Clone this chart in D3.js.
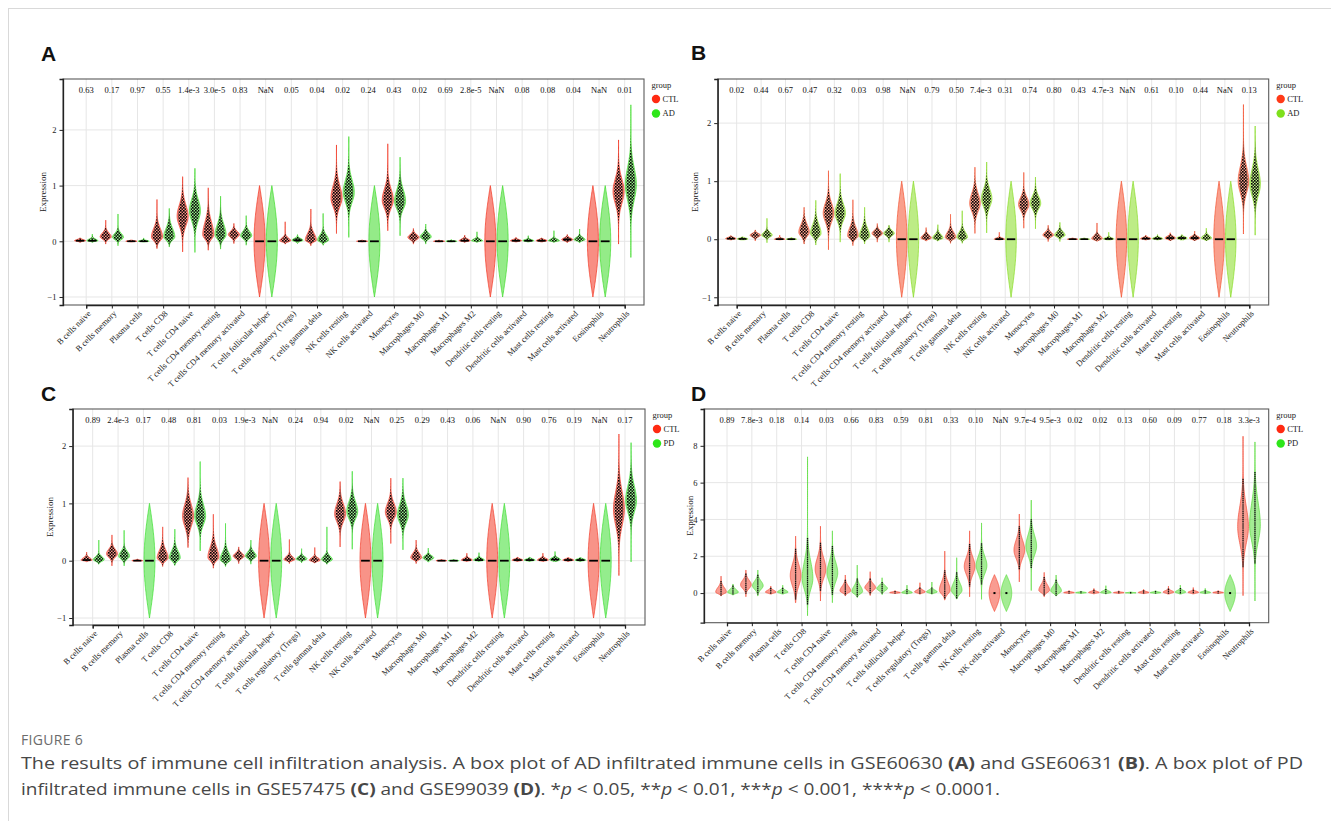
<!DOCTYPE html>
<html><head><meta charset="utf-8">
<script src="https://cdn.jsdelivr.net/npm/d3@7"></script>
<style>
body{margin:0;background:#fff;}
svg{display:block;}
.sf{font-family:"Liberation Serif","DejaVu Serif","Times New Roman",serif;}
</style></head><body>
<svg id="fig" width="1331" height="821"></svg>
<script>
// Immune cell types (CIBERSORT, 22 cell types)
const categories = ["B cells naive","B cells memory","Plasma cells","T cells CD8","T cells CD4 naive",
  "T cells CD4 memory resting","T cells CD4 memory activated","T cells follicular helper",
  "T cells regulatory (Tregs)","T cells gamma delta","NK cells resting","NK cells activated","Monocytes",
  "Macrophages M0","Macrophages M1","Macrophages M2","Dendritic cells resting","Dendritic cells activated",
  "Mast cells resting","Mast cells activated","Eosinophils","Neutrophils"];

// p-values printed above each cell type
const pValuesA = ["0.63","0.17","0.97","0.55","1.4e-3","3.0e-5","0.83","NaN","0.05","0.04","0.02","0.24","0.43","0.02","0.69","2.8e-5","NaN","0.08","0.08","0.04","NaN","0.01"];
const pValuesB = ["0.02","0.44","0.67","0.47","0.32","0.03","0.98","NaN","0.79","0.50","7.4e-3","0.31","0.74","0.80","0.43","4.7e-3","NaN","0.61","0.10","0.44","NaN","0.13"];
const pValuesC = ["0.89","2.4e-3","0.17","0.48","0.81","0.03","1.9e-3","NaN","0.24","0.94","0.02","NaN","0.25","0.29","0.43","0.06","NaN","0.90","0.76","0.19","NaN","0.17"];
const pValuesD = ["0.89","7.8e-3","0.18","0.14","0.03","0.66","0.83","0.59","0.81","0.33","0.10","NaN","9.7e-4","9.5e-3","0.02","0.02","0.13","0.60","0.09","0.77","0.18","3.3e-3"];

// Violin summaries per cell type: [min, mode, max, spread below mode, spread above mode]
// all-zero rows are cell types with constant (zero) expression in that group
const ctlA = [[-0.02,0.01,0.06,0.01,0.02],[-0.05,0.08,0.38,0.04,0.07],[-0.01,0,0.02,0.005,0.01],[-0.13,0.08,0.75,0.07,0.15],
  [-0.19,0.45,1.16,0.17,0.2],[-0.16,0.12,0.96,0.08,0.22],[-0.04,0.12,0.32,0.05,0.06],[0,0,0,0,0],
  [-0.05,0.01,0.35,0.02,0.05],[-0.08,0.02,0.58,0.03,0.12],[0.14,0.78,1.73,0.16,0.22],[-0.01,0,0.02,0.005,0.008],
  [0.19,0.74,1.75,0.15,0.2],[-0.05,0.07,0.23,0.04,0.05],[-0.01,0,0.02,0.005,0.008],[-0.02,0.01,0.11,0.01,0.03],
  [0,0,0,0,0],[-0.01,0.01,0.07,0.01,0.02],[-0.01,0.01,0.06,0.01,0.02],[-0.02,0.03,0.12,0.02,0.03],
  [0,0,0,0,0],[-0.05,0.9,1.82,0.22,0.22]];
const adA = [[-0.02,0.01,0.13,0.01,0.03],[-0.08,0.07,0.49,0.04,0.07],[-0.01,0,0.06,0.005,0.015],[-0.1,0.08,0.59,0.06,0.15],
  [-0.2,0.55,1.31,0.18,0.2],[-0.14,0.12,0.81,0.08,0.18],[-0.07,0.1,0.46,0.05,0.08],[0,0,0,0,0],
  [-0.04,0.02,0.12,0.02,0.03],[-0.07,0.02,0.5,0.03,0.09],[0.07,0.88,1.88,0.18,0.22],[0,0,0,0,0],
  [0.1,0.72,1.51,0.14,0.2],[-0.05,0.08,0.31,0.04,0.06],[-0.01,0,0.03,0.005,0.008],[-0.02,0.01,0.17,0.01,0.03],
  [0,0,0,0,0],[-0.01,0.01,0.1,0.01,0.02],[-0.02,0.01,0.19,0.01,0.03],[-0.03,0.03,0.22,0.02,0.04],
  [0,0,0,0,0],[-0.29,1.02,2.45,0.28,0.3]];

const ctlB = [[-0.01,0.01,0.06,0.01,0.02],[-0.03,0.07,0.16,0.03,0.03],[-0.01,0,0.07,0.005,0.015],[-0.08,0.12,0.55,0.07,0.13],
  [-0.18,0.45,1.18,0.15,0.17],[-0.11,0.06,0.68,0.05,0.14],[-0.05,0.1,0.27,0.04,0.05],[0,0,0,0,0],
  [-0.03,0.02,0.2,0.02,0.05],[-0.07,0.03,0.43,0.03,0.09],[0.1,0.62,1.24,0.14,0.17],[-0.01,0,0.12,0.005,0.02],
  [0.19,0.6,1.15,0.1,0.12],[-0.04,0.07,0.24,0.03,0.05],[-0.005,0,0.02,0.005,0.008],[-0.03,0.01,0.28,0.02,0.05],
  [0,0,0,0,0],[-0.01,0.01,0.07,0.01,0.02],[-0.02,0.02,0.11,0.02,0.03],[-0.02,0.02,0.14,0.02,0.03],
  [0,0,0,0,0],[0.09,1.0,2.32,0.2,0.25]];
const adB = [[-0.01,0.005,0.04,0.01,0.015],[-0.06,0.07,0.36,0.03,0.05],[-0.01,0,0.03,0.005,0.01],[-0.1,0.1,0.67,0.06,0.15],
  [-0.05,0.45,1.13,0.13,0.16],[-0.08,0.05,0.55,0.04,0.13],[-0.05,0.1,0.24,0.04,0.05],[0,0,0,0,0],
  [-0.03,0.02,0.25,0.02,0.06],[-0.07,0.03,0.49,0.03,0.09],[0.11,0.7,1.33,0.14,0.16],[0,0,0,0,0],
  [0.18,0.62,1.07,0.1,0.12],[-0.04,0.07,0.29,0.03,0.06],[-0.005,0,0.02,0.005,0.008],[-0.01,0.005,0.12,0.01,0.02],
  [0,0,0,0,0],[-0.01,0.01,0.08,0.01,0.02],[-0.01,0.02,0.08,0.02,0.02],[-0.02,0.02,0.19,0.02,0.04],
  [0,0,0,0,0],[0.07,0.95,1.95,0.2,0.25]];

const ctlC = [[-0.02,0.01,0.15,0.01,0.04],[-0.09,0.12,0.45,0.06,0.08],[-0.005,0,0.03,0.005,0.01],[-0.1,0.05,0.59,0.05,0.13],
  [0.23,0.78,1.45,0.18,0.2],[-0.13,0.06,0.81,0.06,0.17],[-0.05,0.08,0.24,0.04,0.05],[0,0,0,0,0],
  [-0.05,0.02,0.37,0.02,0.05],[-0.04,0.01,0.23,0.02,0.04],[0.24,0.82,1.38,0.14,0.17],[0,0,0,0,0],
  [0.3,0.85,1.44,0.12,0.15],[-0.05,0.05,0.36,0.03,0.08],[-0.005,0,0.02,0.005,0.008],[-0.01,0.01,0.13,0.01,0.03],
  [0,0,0,0,0],[-0.01,0.01,0.06,0.01,0.02],[-0.01,0.01,0.13,0.01,0.03],[-0.01,0.01,0.05,0.01,0.02],
  [0,0,0,0,0],[-0.26,0.9,2.21,0.28,0.3]];
const pdC = [[-0.06,0.02,0.36,0.03,0.05],[-0.09,0.08,0.53,0.05,0.08],[0,0,0,0,0],[-0.08,0.05,0.55,0.05,0.12],
  [0.17,0.78,1.73,0.15,0.2],[-0.1,0.02,0.65,0.04,0.12],[-0.06,0.08,0.36,0.04,0.07],[0,0,0,0,0],
  [-0.04,0.03,0.21,0.02,0.04],[-0.06,0.02,0.59,0.03,0.06],[0.2,0.86,1.56,0.13,0.17],[0,0,0,0,0],
  [0.19,0.8,1.44,0.14,0.18],[-0.02,0.05,0.22,0.03,0.04],[-0.005,0,0.02,0.005,0.008],[-0.01,0.01,0.14,0.01,0.03],
  [0,0,0,0,0],[-0.01,0.01,0.06,0.01,0.02],[-0.01,0.02,0.16,0.02,0.03],[-0.01,0.01,0.05,0.01,0.02],
  [0,0,0,0,0],[-0.02,1.05,2.06,0.2,0.25]];

const ctlD = [[-0.16,0.05,0.92,0.08,0.25],[-0.2,0.45,1.25,0.2,0.25],[-0.05,0.05,0.38,0.05,0.1],[-0.52,0.95,3.09,0.55,0.6],
  [-0.43,1.3,3.63,0.5,0.6],[-0.15,0.12,0.98,0.1,0.25],[-0.13,0.3,1.16,0.15,0.2],[-0.02,0.02,0.12,0.02,0.04],
  [-0.05,0.06,0.56,0.05,0.1],[-0.38,0.15,2.28,0.2,0.45],[-0.2,1.45,3.38,0.45,0.5],[0,0,0,0,0],
  [0.61,2.33,4.29,0.45,0.55],[-0.2,0.15,1.12,0.12,0.3],[-0.02,0.02,0.12,0.02,0.04],[-0.04,0.03,0.25,0.03,0.06],
  [-0.02,0.02,0.12,0.02,0.03],[-0.03,0.03,0.2,0.03,0.05],[-0.05,0.05,0.38,0.05,0.08],[-0.04,0.04,0.3,0.04,0.06],
  [-0.02,0.02,0.12,0.02,0.04],[-0.14,3.6,8.52,0.9,1.1]];
const pdD = [[-0.1,0.04,0.49,0.06,0.15],[-0.16,0.4,1.25,0.2,0.25],[-0.05,0.05,0.43,0.05,0.1],[-1.23,0.8,7.4,0.6,0.9],
  [-0.52,1.1,3.38,0.5,0.6],[-0.24,0.08,1.52,0.12,0.3],[-0.08,0.25,0.83,0.12,0.15],[-0.04,0.02,0.43,0.03,0.08],
  [-0.05,0.06,0.6,0.05,0.1],[-0.31,0.15,1.92,0.2,0.4],[-0.34,1.5,3.81,0.45,0.5],[0,0,0,0,0],
  [0.14,2.55,5.05,0.5,0.6],[-0.15,0.12,0.98,0.12,0.25],[-0.02,0.02,0.1,0.02,0.03],[-0.04,0.03,0.4,0.03,0.08],
  [-0.01,0.01,0.06,0.01,0.02],[-0.02,0.02,0.12,0.02,0.04],[-0.05,0.05,0.43,0.05,0.09],[-0.03,0.03,0.25,0.03,0.05],
  [0,0,0,0,0],[-0.43,3.7,8.21,0.9,1.2]];

const yTicksAC = [-1, 0, 1, 2];
const yTicksD = [0, 2, 4, 6, 8];

// Panel layout
const panels = [
  {tag:"A", x0:63, x1:644, y0:79, y1:305, dom:[-1.144, 2.914], ticks:yTicksAC, first:86.2, last:624.7,
   pvals:pValuesA, ctl:ctlA, cas:adA, caseName:"AD", ylabX:43, tagX:41, tagY:61, jitter:true,
   ctlCol:"#F2321E", casCol:"#3CDB26", ctlKey:"#FF2A12", casKey:"#2EE619"},
  {tag:"B", x0:717.7, x1:1268.7, y0:79, y1:305, dom:[-1.133, 2.76], ticks:yTicksAC, first:736.7, last:1249.3,
   pvals:pValuesB, ctl:ctlB, cas:adB, caseName:"AD", ylabX:695, tagX:691, tagY:60, jitter:true,
   ctlCol:"#F4502E", casCol:"#86DD22", ctlKey:"#FF3A18", casKey:"#7EE01C"},
  {tag:"C", x0:72.7, x1:645, y0:409, y1:625, dom:[-1.122, 2.647], ticks:yTicksAC, first:92.7, last:625,
   pvals:pValuesC, ctl:ctlC, cas:pdC, caseName:"PD", ylabX:49.5, tagX:41, tagY:401, jitter:true,
   ctlCol:"#F23A26", casCol:"#3CDF30", ctlKey:"#FF2A12", casKey:"#2EE619"},
  {tag:"D", x0:704, x1:1268.7, y0:409, y1:622.7, dom:[-1.61, 10.0], ticks:yTicksD, first:727, last:1249,
   pvals:pValuesD, ctl:ctlD, cas:pdD, caseName:"PD", ylabX:690, tagX:691, tagY:401, jitter:false,
   ctlCol:"#F44A36", casCol:"#5ADD3C", ctlKey:"#FF2A12", casKey:"#2EE619"}
];

const svg = d3.select("#fig");

// jittered-point texture
const defs = svg.append("defs");
const pat = defs.append("pattern").attr("id","jit").attr("patternUnits","userSpaceOnUse")
  .attr("width",3).attr("height",3);
[[0,0,1.6],[1.5,1.4,1.5]].forEach(([x,y,s]) =>
  pat.append("rect").attr("x",x).attr("y",y).attr("width",s).attr("height",s).attr("fill","#000"));

// frame of the figure page
svg.append("line").attr("x1",8).attr("x2",1331).attr("y1",8.5).attr("y2",8.5).attr("stroke","#d9d9d9");
svg.append("line").attr("x1",8.5).attr("x2",8.5).attr("y1",8).attr("y2",821).attr("stroke","#d9d9d9");

function profile(v) {
  const [lo, mode, hi, sl, su] = v;
  const rows = [];
  const n = 90;
  if (lo === hi) {
    for (let i = 0; i <= n; i++) { const y = -1 + 2 * i / n; rows.push({y, w: Math.cos(Math.PI / 2 * y)}); }
    return rows;
  }
  const ys = d3.range(n + 1).map(i => lo + (hi - lo) * i / n).concat([mode]).sort((a, b) => a - b);
  ys.forEach(y => {
    const s = y < mode ? sl : su;
    rows.push({y, w: Math.exp(-0.5 * Math.pow((y - mode) / s, 2))});
  });
  return rows;
}

panels.forEach(p => {
  const g = svg.append("g");
  const x = d3.scalePoint().domain(categories).range([p.first, p.last]);
  const y = d3.scaleLinear().domain(p.dom).range([p.y1, p.y0]);
  const step = x.step();
  const off = 0.24 * step, W = 0.215 * step;

  // grid
  g.append("g").selectAll("line").data(p.ticks).join("line")
    .attr("x1", p.x0).attr("x2", p.x1).attr("y1", d => y(d)).attr("y2", d => y(d))
    .attr("stroke", "#e6e6e6").attr("stroke-width", 1);
  g.append("g").selectAll("line").data(categories).join("line")
    .attr("x1", d => x(d)).attr("x2", d => x(d)).attr("y1", p.y0).attr("y2", p.y1)
    .attr("stroke", "#e6e6e6").attr("stroke-width", 1);

  // panel border
  g.append("rect").attr("x", p.x0).attr("y", p.y0).attr("width", p.x1 - p.x0).attr("height", p.y1 - p.y0)
    .attr("fill", "none").attr("stroke", "#5a5a5a").attr("stroke-width", 1.1);

  // violins
  const groups = [{vals:p.ctl, col:p.ctlCol, dx:-off}, {vals:p.cas, col:p.casCol, dx:off}];
  categories.forEach((c, i) => {
    groups.forEach(gr => {
      const v = gr.vals[i];
      const cx = x(c) + gr.dx;
      const rows = profile(v);
      const isConst = v[0] === v[2];
      const area = d3.area().y(d => y(d.y)).x0(d => cx - W * d.w).x1(d => cx + W * d.w);
      g.append("path").attr("d", area(rows)).attr("fill", gr.col).attr("fill-opacity", 0.55)
        .attr("stroke", gr.col).attr("stroke-width", 0.7);
      const pixH = isConst ? 0 : Math.abs(y(v[0]) - y(v[2]));
      if (p.jitter) {
        if (isConst) {
          g.append("line").attr("x1", cx - 0.8 * W).attr("x2", cx + 0.8 * W).attr("y1", y(0)).attr("y2", y(0))
            .attr("stroke", "#000").attr("stroke-width", 1.8);
        } else {
          const inner = d3.area().y(d => y(d.y)).x0(d => cx - 0.8 * W * d.w).x1(d => cx + 0.8 * W * d.w);
          g.append("path").attr("d", inner(rows)).attr("fill", "url(#jit)");
          if (pixH < 10) {
            g.append("line").attr("x1", cx - 0.75 * W).attr("x2", cx + 0.75 * W)
              .attr("y1", y(v[1])).attr("y2", y(v[1])).attr("stroke", "#000").attr("stroke-width", 1.6);
          }
        }
      } else {
        if (isConst) {
          g.append("rect").attr("x", cx - 1).attr("y", y(0) - 1).attr("width", 2).attr("height", 2).attr("fill", "#000");
        } else {
          const core = rows.filter(d => d.w > 0.05);
          const top = d3.max(core, d => d.y), bot = d3.min(core, d => d.y);
          g.append("line").attr("x1", cx).attr("x2", cx).attr("y1", y(top)).attr("y2", Math.max(y(bot), y(top) + 1.5))
            .attr("stroke", "#111").attr("stroke-width", 1.3).attr("stroke-dasharray", "1.4,0.5");
        }
      }
    });
  });

  // p-values
  g.append("g").selectAll("text").data(categories).join("text").attr("class", "sf")
    .attr("x", d => x(d)).attr("y", p.y0 + 14).attr("text-anchor", "middle")
    .style("font-size", "8.5px").attr("fill", "#111")
    .text((d, i) => p.pvals[i]);

  // axes
  const ya = g.append("g").attr("transform", `translate(${p.x0},0)`)
    .call(d3.axisLeft(y).tickValues(p.ticks).tickSize(3.5).tickFormat(d => d < 0 ? "\u2212" + Math.abs(d) : d));
  ya.attr("font-family", null);
  ya.select(".domain").attr("stroke", "#222").attr("stroke-width", 1.3);
  ya.selectAll(".tick line").attr("stroke", "#222");
  ya.selectAll("text").attr("class", "sf").style("font-size", "8.5px").attr("fill", "#222");

  const xa = g.append("g").attr("transform", `translate(0,${p.y1})`)
    .call(d3.axisBottom(x).tickSize(3.5).tickFormat(""));
  xa.select(".domain").attr("stroke", "#222").attr("stroke-width", 1.3);
  xa.selectAll(".tick line").attr("stroke", "#222");

  g.append("g").selectAll("text").data(categories).join("text").attr("class", "sf")
    .attr("transform", d => `translate(${x(d) + 3},${p.y1 + 7}) rotate(-45)`)
    .attr("text-anchor", "end").attr("dy", "0.35em")
    .style("font-size", "8.5px").attr("fill", "#222").text(d => d);

  // y title
  g.append("text").attr("class", "sf").attr("transform", `translate(${p.ylabX},${(p.y0 + p.y1) / 2}) rotate(-90)`)
    .attr("text-anchor", "middle").attr("dy", "0.35em")
    .style("font-size", "9px").attr("fill", "#222").text("Expression");

  // legend
  const lx = p.x1 + 7.5, ly = p.y0;
  g.append("text").attr("class", "sf").attr("x", lx).attr("y", ly + 8.5).style("font-size", "8.5px")
    .attr("fill", "#222").text("group");
  [["CTL", p.ctlKey, 20], [p.caseName, p.casKey, 34.5]].forEach(([lab, col, dy]) => {
    g.append("circle").attr("cx", lx + 4.5).attr("cy", ly + dy).attr("r", 4.2).attr("fill", col);
    g.append("text").attr("class", "sf").attr("x", lx + 11).attr("y", ly + dy).attr("dy", "0.35em")
      .style("font-size", "8.5px").attr("fill", "#222").text(lab);
  });

  // panel tag
  g.append("text").attr("x", p.tagX).attr("y", p.tagY).style("font-family", "'Liberation Sans',Arial,sans-serif")
    .attr("font-weight", "bold").attr("font-size", 21).attr("fill", "#111").text(p.tag);
});

// caption
const cap = svg.append("g").style("font-family", "'Open Sans','Noto Sans',sans-serif");
cap.append("text").attr("x", 21).attr("y", 745).attr("font-size", 14).attr("fill", "#6b6b6b")
  .attr("letter-spacing", 0.3).text("FIGURE 6");
const line1 = cap.append("text").attr("x", 21).attr("y", 769).attr("font-size", 16.5).attr("fill", "#474747")
  .attr("textLength", 1282).attr("lengthAdjust", "spacingAndGlyphs");
[["The results of immune cell infiltration analysis. A box plot of AD infiltrated immune cells in GSE60630 ", ""],
 ["(A)", "b"], [" and GSE60631 ", ""], ["(B)", "b"], [". A box plot of PD", ""]].forEach(([t, s]) =>
  line1.append("tspan").attr("font-weight", s === "b" ? "bold" : null).text(t));
const line2 = cap.append("text").attr("x", 21).attr("y", 795).attr("font-size", 16.5).attr("fill", "#474747")
  .attr("textLength", 979).attr("lengthAdjust", "spacingAndGlyphs");
[["infiltrated immune cells in GSE57475 ", ""], ["(C)", "b"], [" and GSE99039 ", ""], ["(D)", "b"], [". *", ""],
 ["p", "i"], [" < 0.05, **", ""], ["p", "i"], [" < 0.01, ***", ""], ["p", "i"], [" < 0.001, ****", ""], ["p", "i"], [" < 0.0001.", ""]]
  .forEach(([t, s]) => line2.append("tspan").attr("font-weight", s === "b" ? "bold" : null)
    .attr("font-style", s === "i" ? "italic" : null).text(t));
</script></body></html>
